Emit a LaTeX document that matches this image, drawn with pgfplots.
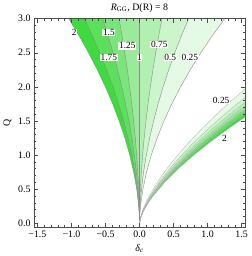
\documentclass[border=0pt]{standalone}
\usepackage{fontspec}
\setmainfont{Liberation Serif}
\usepackage{pgfplots}
\pgfplotsset{compat=1.18}
\definecolor{b1}{rgb}{0.90,0.98,0.90}
\definecolor{b2}{rgb}{0.80,0.96,0.80}
\definecolor{b3}{rgb}{0.70,0.94,0.70}
\definecolor{b4}{rgb}{0.60,0.92,0.60}
\definecolor{b5}{rgb}{0.48,0.90,0.48}
\definecolor{b6}{rgb}{0.36,0.88,0.36}
\definecolor{b7}{rgb}{0.24,0.86,0.24}
\tikzset{cl/.style={draw=black!45, line width=0.4pt}}
\tikzset{cll/.style={draw=black!30, line width=0.3pt}}
\tikzset{lab/.style={fill=white, inner sep=0.6pt, font=\fontsize{9.5}{10}\selectfont}}
\begin{document}
\begin{tikzpicture}
\begin{axis}[
 scale only axis, width=213.7pt, height=211.3pt,
 xmin=-1.55, xmax=1.55, ymin=-0.06, ymax=3.0,
 xtick={-1.5,-1,-0.5,0,0.5,1,1.5},
 xticklabels={−1.5,−1.0,−0.5,0.0,0.5,1.0,1.5},
 ytick={0,0.5,1,1.5,2,2.5,3},
 yticklabels={0.0,0.5,1.0,1.5,2.0,2.5,3.0},
 minor x tick num=4, minor y tick num=4,
 tick align=inside, major tick length=4pt, minor tick length=2pt,
 tick style={black!70, line width=0.4pt},
 tick label style={font=\fontsize{10}{12}\selectfont},
 label style={font=\fontsize{10}{12}\selectfont},
 title style={font=\fontsize{10}{12}\selectfont, yshift=-3pt},
 title={\textit{R}\textsubscript{GG}, D(R) = 8},
 xlabel={\textit{δ}\textsubscript{\textit{c}}}, ylabel={Q},
 axis line style={black!70, line width=0.5pt},
 axis on top,
]
% ---- upper fan: fills (region between each contour and delta=0) ----
\addplot[fill=b7, draw=none] coordinates {(0,0)(-.0023,.1)(-.012,.25)(-.041,.5)(-.086,.75)(-.144,1)(-.215,1.25)(-.299,1.5)(-.394,1.75)(-.501,2)(-.620,2.25)(-.749,2.5)(-.889,2.75)(-1.04,3)(0,3)} --cycle;
\addplot[fill=b6, draw=none] coordinates {(0,0)(-.0018,.1)(-.009,.25)(-.032,.5)(-.067,.75)(-.112,1)(-.168,1.25)(-.233,1.5)(-.307,1.75)(-.390,2)(-.483,2.25)(-.583,2.5)(-.693,2.75)(-.81,3)(0,3)} --cycle;
\addplot[fill=b5, draw=none] coordinates {(0,0)(-.0012,.1)(-.006,.25)(-.021,.5)(-.045,.75)(-.075,1)(-.112,1.25)(-.155,1.5)(-.205,1.75)(-.260,2)(-.322,2.25)(-.389,2.5)(-.462,2.75)(-.54,3)(0,3)} --cycle;
\addplot[fill=b4, draw=none] coordinates {(0,0)(-.0007,.1)(-.003,.25)(-.012,.5)(-.025,.75)(-.042,1)(-.062,1.25)(-.086,1.5)(-.114,1.75)(-.145,2)(-.179,2.25)(-.216,2.5)(-.257,2.75)(-.30,3)(0,3)} --cycle;
\addplot[fill=b1, draw=none] coordinates {(0,0)(.0028,.1)(.014,.25)(.050,.5)(.103,.75)(.173,1)(.259,1.25)(.359,1.5)(.474,1.75)(.603,2)(.745,2.25)(.900,2.5)(1.069,2.75)(1.25,3)(0,3)} --cycle;
\addplot[fill=b2, draw=none] coordinates {(0,0)(.0016,.1)(.008,.25)(.029,.5)(.059,.75)(.100,1)(.149,1.25)(.207,1.5)(.273,1.75)(.347,2)(.429,2.25)(.518,2.5)(.616,2.75)(.72,3)(0,3)} --cycle;
\addplot[fill=b3, draw=none] coordinates {(0,0)(.0007,.1)(.004,.25)(.013,.5)(.027,.75)(.046,1)(.068,1.25)(.095,1.5)(.125,1.75)(.159,2)(.197,2.25)(.238,2.5)(.282,2.75)(.33,3)(0,3)} --cycle;
% ---- upper fan: contour lines ----
\addplot[cl] coordinates {(0,0)(-.0023,.1)(-.012,.25)(-.041,.5)(-.086,.75)(-.144,1)(-.215,1.25)(-.299,1.5)(-.394,1.75)(-.501,2)(-.620,2.25)(-.749,2.5)(-.889,2.75)(-1.04,3)};
\addplot[cl] coordinates {(0,0)(-.0018,.1)(-.009,.25)(-.032,.5)(-.067,.75)(-.112,1)(-.168,1.25)(-.233,1.5)(-.307,1.75)(-.390,2)(-.483,2.25)(-.583,2.5)(-.693,2.75)(-.81,3)};
\addplot[cl] coordinates {(0,0)(-.0012,.1)(-.006,.25)(-.021,.5)(-.045,.75)(-.075,1)(-.112,1.25)(-.155,1.5)(-.205,1.75)(-.260,2)(-.322,2.25)(-.389,2.5)(-.462,2.75)(-.54,3)};
\addplot[cl] coordinates {(0,0)(-.0007,.1)(-.003,.25)(-.012,.5)(-.025,.75)(-.042,1)(-.062,1.25)(-.086,1.5)(-.114,1.75)(-.145,2)(-.179,2.25)(-.216,2.5)(-.257,2.75)(-.30,3)};
\addplot[cl] coordinates {(0,0)(0,3)};
\addplot[cl] coordinates {(0,0)(.0007,.1)(.004,.25)(.013,.5)(.027,.75)(.046,1)(.068,1.25)(.095,1.5)(.125,1.75)(.159,2)(.197,2.25)(.238,2.5)(.282,2.75)(.33,3)};
\addplot[cl] coordinates {(0,0)(.0016,.1)(.008,.25)(.029,.5)(.059,.75)(.100,1)(.149,1.25)(.207,1.5)(.273,1.75)(.347,2)(.429,2.25)(.518,2.5)(.616,2.75)(.72,3)};
\addplot[cl] coordinates {(0,0)(.0028,.1)(.014,.25)(.050,.5)(.103,.75)(.173,1)(.259,1.25)(.359,1.5)(.474,1.75)(.603,2)(.745,2.25)(.900,2.5)(1.069,2.75)(1.25,3)};
% ---- lower band: fills (region below-right of each contour), painted in order ----
\addplot[fill=b1, draw=none] coordinates {(0,0)(.0177,.1)(.0502,.2)(.0922,.3)(.142,.4)(.261,.6)(.401,.8)(.561,1)(.737,1.2)(.929,1.4)(1.135,1.6)(1.355,1.8)(1.587,2)(3,2)(3,0)} --cycle;
\addplot[fill=b2, draw=none] coordinates {(0,0)(.0196,.1)(.0553,.2)(.1017,.3)(.157,.4)(.288,.6)(.443,.8)(.619,1)(.814,1.2)(1.025,1.4)(1.253,1.6)(1.495,1.8)(1.751,2)(3,2)(3,0)} --cycle;
\addplot[fill=b3, draw=none] coordinates {(0,0)(.0208,.1)(.0587,.2)(.108,.3)(.166,.4)(.305,.6)(.470,.8)(.657,1)(.864,1.2)(1.088,1.4)(1.330,1.6)(1.587,1.8)(1.858,2)(3,2)(3,0)} --cycle;
\addplot[fill=b4, draw=none] coordinates {(0,0)(.0217,.1)(.0614,.2)(.1129,.3)(.174,.4)(.319,.6)(.492,.8)(.687,1)(.903,1.2)(1.138,1.4)(1.390,1.6)(1.659,1.8)(1.943,2)(3,2)(3,0)} --cycle;
\addplot[fill=b5, draw=none] coordinates {(0,0)(.0225,.1)(.0637,.2)(.1171,.3)(.180,.4)(.331,.6)(.510,.8)(.713,1)(.937,1.2)(1.181,1.4)(1.443,1.6)(1.722,1.8)(2.017,2)(3,2)(3,0)} --cycle;
\addplot[fill=b6, draw=none] coordinates {(0,0)(.0232,.1)(.0655,.2)(.1204,.3)(.185,.4)(.341,.6)(.524,.8)(.733,1)(.964,1.2)(1.214,1.4)(1.484,1.6)(1.770,1.8)(2.073,2)(3,2)(3,0)} --cycle;
\addplot[fill=b7, draw=none] coordinates {(0,0)(.0241,.1)(.0681,.2)(.1252,.3)(.193,.4)(.354,.6)(.545,.8)(.762,1)(1.002,1.2)(1.262,1.4)(1.542,1.6)(1.840,1.8)(2.155,2)(3,2)(3,0)} --cycle;
\addplot[fill=white, draw=none] coordinates {(0,0)(.0253,.1)(.0715,.2)(.1314,.3)(.202,.4)(.372,.6)(.572,.8)(.800,1)(1.052,1.2)(1.325,1.4)(1.619,1.6)(1.932,1.8)(2.263,2)(3,2)(3,-1)(0,-1)} --cycle;
% ---- lower band: contour lines ----
\addplot[cll] coordinates {(0,0)(.0177,.1)(.0502,.2)(.0922,.3)(.142,.4)(.261,.6)(.401,.8)(.561,1)(.737,1.2)(.929,1.4)(1.135,1.6)(1.355,1.8)(1.587,2)};
\addplot[cll] coordinates {(0,0)(.0196,.1)(.0553,.2)(.1017,.3)(.157,.4)(.288,.6)(.443,.8)(.619,1)(.814,1.2)(1.025,1.4)(1.253,1.6)(1.495,1.8)(1.751,2)};
\addplot[cll] coordinates {(0,0)(.0208,.1)(.0587,.2)(.108,.3)(.166,.4)(.305,.6)(.470,.8)(.657,1)(.864,1.2)(1.088,1.4)(1.330,1.6)(1.587,1.8)(1.858,2)};
\addplot[cll] coordinates {(0,0)(.0217,.1)(.0614,.2)(.1129,.3)(.174,.4)(.319,.6)(.492,.8)(.687,1)(.903,1.2)(1.138,1.4)(1.390,1.6)(1.659,1.8)(1.943,2)};
\addplot[cll] coordinates {(0,0)(.0225,.1)(.0637,.2)(.1171,.3)(.180,.4)(.331,.6)(.510,.8)(.713,1)(.937,1.2)(1.181,1.4)(1.443,1.6)(1.722,1.8)(2.017,2)};
\addplot[cll] coordinates {(0,0)(.0232,.1)(.0655,.2)(.1204,.3)(.185,.4)(.341,.6)(.524,.8)(.733,1)(.964,1.2)(1.214,1.4)(1.484,1.6)(1.770,1.8)(2.073,2)};
\addplot[cll] coordinates {(0,0)(.0241,.1)(.0681,.2)(.1252,.3)(.193,.4)(.354,.6)(.545,.8)(.762,1)(1.002,1.2)(1.262,1.4)(1.542,1.6)(1.840,1.8)(2.155,2)};
\addplot[cll] coordinates {(0,0)(.0253,.1)(.0715,.2)(.1314,.3)(.202,.4)(.372,.6)(.572,.8)(.800,1)(1.052,1.2)(1.325,1.4)(1.619,1.6)(1.932,1.8)(2.263,2)};
% ---- contour labels ----
\node[lab] at (axis cs:-0.96,2.80) {2};
\node[lab] at (axis cs:-0.45,2.80) {1.5};
\node[lab] at (axis cs:-0.18,2.60) {1.25};
\node[lab] at (axis cs:0.29,2.62) {0.75};
\node[lab] at (axis cs:-0.45,2.43) {1.75};
\node[lab] at (axis cs:0,2.43) {1};
\node[lab] at (axis cs:0.45,2.43) {0.5};
\node[lab] at (axis cs:0.74,2.43) {0.25};
\node[lab] at (axis cs:1.20,1.80) {0.25};
\node[lab] at (axis cs:1.25,1.24) {2};
\end{axis}
\end{tikzpicture}
\end{document}
